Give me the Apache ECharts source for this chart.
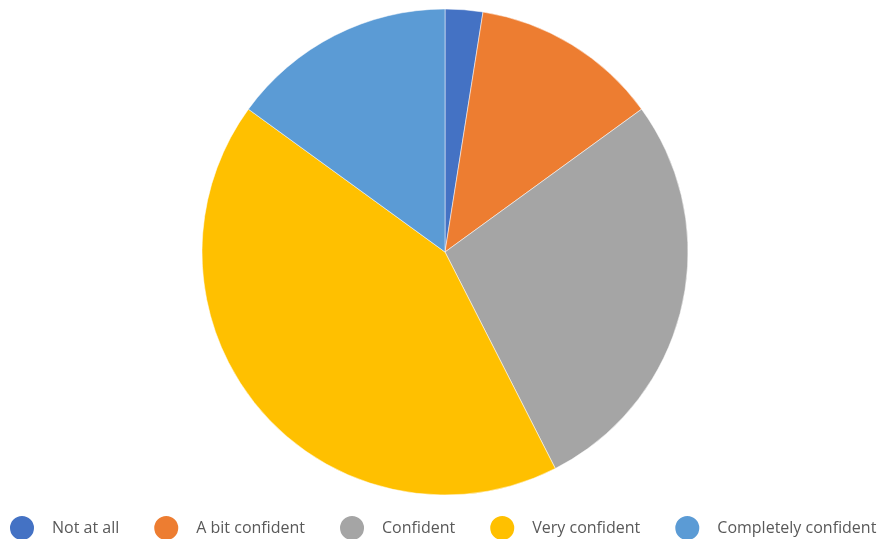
<!DOCTYPE html>
<html>
<head>
<meta charset="utf-8">
<script src="https://cdn.jsdelivr.net/npm/echarts@6/dist/echarts.min.js"></script>
<style>
  html, body { margin: 0; padding: 0; background: #fff; }
  #main { width: 886px; height: 539px; }
</style>
</head>
<body>
<div id="main"></div>
<script>
// 各类别及人数
var categories = ['Not at all', 'A bit confident', 'Confident', 'Very confident', 'Completely confident'];
var counts = [1, 5, 11, 17, 6];
var colors = ['#4472C4', '#ED7D31', '#A5A5A5', '#FFC000', '#5B9BD5'];

var myChart = echarts.init(document.getElementById('main'));

var pieData = [];
for (var i = 0; i < categories.length; i++) {
    pieData.push({ name: categories[i], value: counts[i] });
}

var option = {
    animation: false,
    color: colors,
    legend: {
        top: 514,
        left: 8,
        padding: 0,
        icon: 'circle',
        itemWidth: 34,
        itemHeight: 26,
        itemGap: 33,
        data: categories,
        textStyle: {
            fontFamily: 'Open Sans',
            fontSize: 16,
            color: '#595959',
            padding: [0, 0, 0, 8]
        }
    },
    series: [{
        type: 'pie',
        center: [445, 252],
        radius: 243,
        startAngle: 90,
        label: { show: false },
        labelLine: { show: false },
        itemStyle: { borderColor: '#fff', borderWidth: 0.5 },
        data: pieData
    }]
};
myChart.setOption(option);
</script>
</body>
</html>
